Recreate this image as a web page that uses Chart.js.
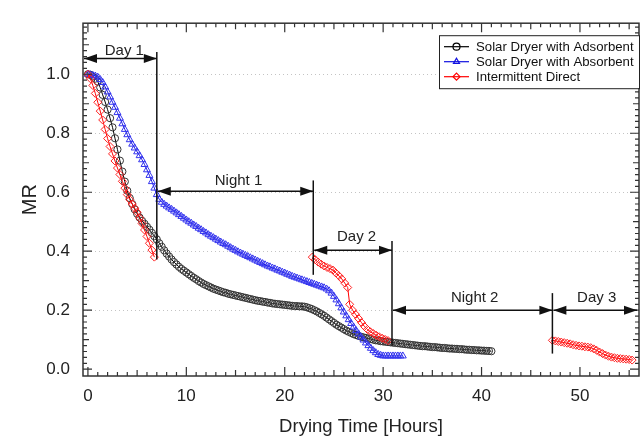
<!DOCTYPE html>
<html>
<head>
<meta charset="utf-8">
<script src="https://cdn.jsdelivr.net/npm/chart.js@4/dist/chart.umd.min.js"></script>
<style>
  html, body { margin: 0; padding: 0; background: #fff; }
  #wrap { width: 644px; height: 438px; }
</style>
</head>
<body>
<div id="wrap"><canvas id="mrChart" width="644" height="438"></canvas></div>
<script>
// sampling times [h], one reading every 15 min
const quarterHours = [
  0, 0.25, 0.5, 0.75, 1, 1.25, 1.5, 1.75,
  2, 2.25, 2.5, 2.75, 3, 3.25, 3.5, 3.75,
  4, 4.25, 4.5, 4.75, 5, 5.25, 5.5, 5.75,
  6, 6.25, 6.5, 6.75, 7, 7.25, 7.5, 7.75,
  8, 8.25, 8.5, 8.75, 9, 9.25, 9.5, 9.75,
  10, 10.25, 10.5, 10.75, 11, 11.25, 11.5, 11.75,
  12, 12.25, 12.5, 12.75, 13, 13.25, 13.5, 13.75,
  14, 14.25, 14.5, 14.75, 15, 15.25, 15.5, 15.75,
  16, 16.25, 16.5, 16.75, 17, 17.25, 17.5, 17.75,
  18, 18.25, 18.5, 18.75, 19, 19.25, 19.5, 19.75,
  20, 20.25, 20.5, 20.75, 21, 21.25, 21.5, 21.75,
  22, 22.25, 22.5, 22.75, 23, 23.25, 23.5, 23.75,
  24, 24.25, 24.5, 24.75, 25, 25.25, 25.5, 25.75,
  26, 26.25, 26.5, 26.75, 27, 27.25, 27.5, 27.75,
  28, 28.25, 28.5, 28.75, 29, 29.25, 29.5, 29.75,
  30, 30.25, 30.5, 30.75, 31, 31.25, 31.5, 31.75,
  32, 32.25, 32.5, 32.75, 33, 33.25, 33.5, 33.75,
  34, 34.25, 34.5, 34.75, 35, 35.25, 35.5, 35.75,
  36, 36.25, 36.5, 36.75, 37, 37.25, 37.5, 37.75,
  38, 38.25, 38.5, 38.75, 39, 39.25, 39.5, 39.75,
  40, 40.25, 40.5, 40.75, 41];

// moisture ratio
const adsorbentMR = [
  1.0, 0.998, 0.992, 0.985, 0.975, 0.955, 0.93, 0.906,
  0.88, 0.851, 0.82, 0.783, 0.745, 0.707, 0.67, 0.636,
  0.605, 0.58, 0.56, 0.542, 0.527, 0.514, 0.503, 0.493,
  0.483, 0.473, 0.462, 0.451, 0.44, 0.427, 0.415, 0.403,
  0.392, 0.382, 0.372, 0.363, 0.355, 0.347, 0.34, 0.334,
  0.328, 0.322, 0.316, 0.31, 0.305, 0.299, 0.294, 0.289,
  0.285, 0.281, 0.277, 0.273, 0.27, 0.267, 0.264, 0.261,
  0.259, 0.256, 0.254, 0.252, 0.25, 0.248, 0.246, 0.244,
  0.242, 0.24, 0.238, 0.236, 0.234, 0.232, 0.231, 0.229,
  0.228, 0.226, 0.225, 0.223, 0.222, 0.221, 0.22, 0.219,
  0.218, 0.217, 0.216, 0.215, 0.214, 0.214, 0.213, 0.213,
  0.212, 0.21, 0.207, 0.204, 0.2, 0.196, 0.191, 0.186,
  0.181, 0.175, 0.169, 0.163, 0.157, 0.151, 0.146, 0.141,
  0.136, 0.131, 0.127, 0.123, 0.119, 0.116, 0.113, 0.11,
  0.108, 0.106, 0.104, 0.102, 0.1, 0.098, 0.097, 0.095,
  0.094, 0.093, 0.092, 0.091, 0.09, 0.089, 0.088, 0.087,
  0.086, 0.085, 0.084, 0.083, 0.082, 0.081, 0.08, 0.079,
  0.078, 0.078, 0.077, 0.076, 0.075, 0.075, 0.074, 0.073,
  0.072, 0.072, 0.071, 0.07, 0.07, 0.069, 0.069, 0.068,
  0.068, 0.067, 0.066, 0.066, 0.065, 0.065, 0.064, 0.064,
  0.063, 0.063, 0.062, 0.062, 0.061];

const absorbentMR = [
  1.0, 0.998, 0.996, 0.994, 0.99, 0.982, 0.972, 0.957,
  0.94, 0.923, 0.905, 0.888, 0.87, 0.851, 0.832, 0.813,
  0.795, 0.778, 0.763, 0.75, 0.737, 0.724, 0.71, 0.694,
  0.676, 0.657, 0.636, 0.614, 0.592, 0.576, 0.566, 0.559,
  0.553, 0.547, 0.542, 0.536, 0.53, 0.524, 0.518, 0.512,
  0.506, 0.5, 0.495, 0.489, 0.484, 0.478, 0.473, 0.467,
  0.462, 0.456, 0.451, 0.446, 0.441, 0.436, 0.431, 0.426,
  0.422, 0.417, 0.412, 0.407, 0.403, 0.398, 0.394, 0.39,
  0.386, 0.382, 0.378, 0.374, 0.37, 0.366, 0.362, 0.358,
  0.354, 0.35, 0.347, 0.343, 0.34, 0.336, 0.333, 0.329,
  0.326, 0.322, 0.319, 0.315, 0.312, 0.309, 0.306, 0.303,
  0.3, 0.297, 0.294, 0.291, 0.288, 0.285, 0.282, 0.279,
  0.276, 0.272, 0.266, 0.258, 0.247, 0.235, 0.222, 0.208,
  0.194, 0.181, 0.168, 0.155, 0.143, 0.131, 0.12, 0.109,
  0.099, 0.089, 0.08, 0.071, 0.063, 0.056, 0.05, 0.047,
  0.045, 0.045, 0.045, 0.045, 0.045, 0.045, 0.045, 0.045,
  0.045];

// intermittent direct drying: only measured during day 1, day 2 and day 3
const directMR1 = [
  1.0, 0.985, 0.962, 0.935, 0.905, 0.875, 0.845, 0.813,
  0.782, 0.755, 0.73, 0.706, 0.682, 0.66, 0.637, 0.614,
  0.592, 0.575, 0.56, 0.546, 0.532, 0.513, 0.494, 0.472,
  0.45, 0.427, 0.404, 0.38];
const directTime2 = [22.8, 23.1, 23.4, 23.7, 24, 24.3, 24.6, 24.9, 25.2, 25.5, 25.8, 26.1, 26.4, 26.6,
  26.9, 27.2, 27.5, 27.8, 28.1, 28.4, 28.7, 29, 29.3, 29.6, 29.9, 30.2, 30.5];
const directMR2 = [0.38, 0.371, 0.363, 0.356, 0.35, 0.345, 0.341, 0.336, 0.326, 0.317, 0.306, 0.292, 0.277, 0.22,
  0.2, 0.186, 0.172, 0.158, 0.145, 0.135, 0.127, 0.121, 0.115, 0.11, 0.105, 0.101, 0.097];
const directTime3 = [47.2, 47.5, 47.8, 48.1, 48.4, 48.7, 49, 49.3, 49.6, 49.9, 50.2, 50.5, 50.8, 51.1,
  51.4, 51.7, 52, 52.3, 52.6, 52.9, 53.2, 53.5, 53.8, 54.1, 54.4, 54.7, 55, 55.3];
const directMR3 = [0.098, 0.096, 0.094, 0.092, 0.09, 0.088, 0.086, 0.083, 0.081, 0.079, 0.078, 0.076, 0.075, 0.073,
  0.069, 0.064, 0.058, 0.053, 0.048, 0.044, 0.041, 0.039, 0.037, 0.036, 0.035, 0.034, 0.033, 0.031];

const seriesNames = ["Solar Dryer with Adsorbent", "Solar Dryer with Absorbent", "Intermittent Direct"];
const xTicks = [0, 10, 20, 30, 40, 50];
const yTicks = [0, 0.2, 0.4, 0.6, 0.8, 1.0];

// day / night periods marked on the plot
const periods = [
  { label: "Day 1", from: -0.5, to: 7, arrowY: 1.053, textX: 3.7, textY: 1.08 },
  { label: "Night 1", from: 7, to: 22.9, arrowY: 0.603, textX: 15.3, textY: 0.64 },
  { label: "Day 2", from: 22.9, to: 30.9, arrowY: 0.403, textX: 27.3, textY: 0.45 },
  { label: "Night 2", from: 30.9, to: 47.2, arrowY: 0.2, textX: 39.3, textY: 0.241 },
  { label: "Day 3", from: 47.2, to: 56, arrowY: 0.2, textX: 51.7, textY: 0.241 },
];
const dividers = [
  { x: 7, top: 1.075, bottom: 0.372 },
  { x: 22.9, top: 0.64, bottom: 0.32 },
  { x: 30.9, top: 0.435, bottom: 0.08 },
  { x: 47.2, top: 0.258, bottom: 0.053 },
];

function toPoints(xs, ys) {
  return ys.map((y, i) => ({ x: xs[i], y: y }));
}

const directPoints = toPoints(quarterHours, directMR1)
  .concat([{ x: 15, y: null }])
  .concat(toPoints(directTime2, directMR2))
  .concat([{ x: 40, y: null }])
  .concat(toPoints(directTime3, directMR3));

Chart.defaults.font.family = "'Liberation Sans', Arial, sans-serif";
Chart.defaults.color = "#222";

function arrowHead(ctx, x, y, dir) {
  ctx.beginPath();
  ctx.moveTo(x, y);
  ctx.lineTo(x + dir * 13, y - 4.5);
  ctx.lineTo(x + dir * 13, y + 4.5);
  ctx.closePath();
  ctx.fill();
}

const decorPlugin = {
  id: "decor",
  beforeDatasetsDraw(chart) {
    const { ctx, chartArea: a, scales } = chart;
    ctx.save();
    ctx.strokeStyle = "#c4c4c4";
    ctx.lineWidth = 1;
    ctx.setLineDash([1, 3]);
    yTicks.forEach((v) => {
      if (v === 0) return;
      const py = Math.round(scales.y.getPixelForValue(v)) + 0.5;
      ctx.beginPath();
      ctx.moveTo(a.left, py);
      ctx.lineTo(a.right, py);
      ctx.stroke();
    });
    ctx.restore();
  },
  afterDatasetsDraw(chart) {
    const { ctx, chartArea: a, scales } = chart;
    const xs = scales.x, ys = scales.y;
    ctx.save();

    // frame and inward ticks on all four sides
    ctx.strokeStyle = "#333";
    ctx.lineWidth = 1.5;
    ctx.strokeRect(a.left, a.top, a.right - a.left, a.bottom - a.top);
    ctx.lineWidth = 1.2;
    for (let t = 0; t <= 55; t++) {
      const px = xs.getPixelForValue(t);
      const len = t % 10 === 0 ? 9 : (t % 5 === 0 ? 6 : 4);
      ctx.beginPath();
      ctx.moveTo(px, a.bottom); ctx.lineTo(px, a.bottom - len);
      ctx.moveTo(px, a.top); ctx.lineTo(px, a.top + len);
      ctx.stroke();
    }
    for (let k = 0; k <= 58; k++) {
      const py = ys.getPixelForValue(k * 0.02);
      const len = k % 10 === 0 ? 9 : (k % 5 === 0 ? 6 : 4);
      ctx.beginPath();
      ctx.moveTo(a.left, py); ctx.lineTo(a.left + len, py);
      ctx.moveTo(a.right, py); ctx.lineTo(a.right - len, py);
      ctx.stroke();
    }

    // day / night markers
    ctx.strokeStyle = "#111";
    ctx.fillStyle = "#111";
    ctx.lineWidth = 1.5;
    dividers.forEach((d) => {
      const px = xs.getPixelForValue(d.x);
      ctx.beginPath();
      ctx.moveTo(px, ys.getPixelForValue(d.top));
      ctx.lineTo(px, ys.getPixelForValue(d.bottom));
      ctx.stroke();
    });
    ctx.font = "15px 'Liberation Sans', Arial, sans-serif";
    ctx.textAlign = "center";
    ctx.textBaseline = "middle";
    periods.forEach((p) => {
      const x1 = xs.getPixelForValue(p.from) + 1;
      const x2 = Math.min(xs.getPixelForValue(p.to), a.right - 2);
      const py = ys.getPixelForValue(p.arrowY);
      ctx.beginPath();
      ctx.moveTo(x1, py); ctx.lineTo(x2, py);
      ctx.stroke();
      arrowHead(ctx, x1, py, 1);
      arrowHead(ctx, x2, py, -1);
      ctx.fillStyle = "#222";
      ctx.fillText(p.label, xs.getPixelForValue(p.textX), ys.getPixelForValue(p.textY));
      ctx.fillStyle = "#111";
    });

    // legend box in the upper right corner
    const bw = 200, bh = 53;
    const bx = a.right - bw, by = a.top + 12;
    ctx.setLineDash([]);
    ctx.fillStyle = "#fff";
    ctx.fillRect(bx, by, bw, bh);
    ctx.strokeStyle = "#222";
    ctx.lineWidth = 1;
    ctx.strokeRect(bx + 0.5, by + 0.5, bw, bh);
    ctx.font = "13.2px 'Liberation Sans', Arial, sans-serif";
    ctx.textAlign = "left";
    chart.data.datasets.forEach((ds, i) => {
      const ry = by + 11.5 + i * 15;
      ctx.strokeStyle = ds.borderColor;
      ctx.lineWidth = 1.2;
      ctx.beginPath();
      ctx.moveTo(bx + 5, ry); ctx.lineTo(bx + 30, ry);
      ctx.stroke();
      ctx.fillStyle = "rgba(0,0,0,0)";
      Chart.helpers.drawPoint(ctx, { pointStyle: ds.pointStyle, radius: 3.5, borderWidth: 1, rotation: 0 }, bx + 17.5, ry);
      ctx.fillStyle = "#111";
      ctx.fillText(seriesNames[i], bx + 37, ry + 1);
    });
    ctx.restore();
  },
};

new Chart(document.getElementById("mrChart"), {
  type: "line",
  data: {
    datasets: [
      {
        label: seriesNames[0],
        data: toPoints(quarterHours, adsorbentMR),
        borderColor: "#000",
        backgroundColor: "rgba(0,0,0,0)",
        borderWidth: 1,
        pointStyle: "circle",
        pointRadius: 3.6,
        pointBorderWidth: 1,
        pointBorderColor: "#333",
        order: 2,
      },
      {
        label: seriesNames[1],
        data: toPoints(quarterHours, absorbentMR),
        borderColor: "#1010e0",
        backgroundColor: "rgba(0,0,0,0)",
        borderWidth: 1,
        pointStyle: "triangle",
        pointRadius: 4,
        pointBorderWidth: 1,
        pointBorderColor: "#3333ee",
        order: 1,
      },
      {
        label: seriesNames[2],
        data: directPoints,
        borderColor: "#ff0000",
        backgroundColor: "rgba(0,0,0,0)",
        borderWidth: 1,
        pointStyle: "rectRot",
        pointRadius: 4,
        pointBorderWidth: 1,
        pointBorderColor: "#ff2020",
        spanGaps: false,
        order: 0,
      },
    ],
  },
  options: {
    responsive: false,
    animation: false,
    devicePixelRatio: 1,
    layout: { padding: { top: 17, right: 2, left: 0, bottom: 0 } },
    plugins: {
      legend: { display: false },
      tooltip: { enabled: false },
    },
    scales: {
      x: {
        type: "linear",
        min: -0.5,
        max: 56,
        afterFit: (scale) => { scale.height = 62; },
        afterBuildTicks: (scale) => { scale.ticks = xTicks.map((v) => ({ value: v })); },
        grid: { display: false, drawTicks: false },
        border: { display: false },
        ticks: { font: { size: 17 }, padding: 10, color: "#222", maxRotation: 0 },
        title: { display: true, text: "Drying Time [Hours]", font: { size: 18.5 }, color: "#222", padding: { top: 0, bottom: 0 } },
      },
      y: {
        type: "linear",
        min: -0.023,
        max: 1.173,
        afterFit: (scale) => { scale.width = 83; },
        afterBuildTicks: (scale) => { scale.ticks = yTicks.map((v) => ({ value: v })); },
        grid: { display: false, drawTicks: false },
        border: { display: false },
        ticks: { font: { size: 17 }, padding: 13, color: "#222", callback: (v) => Number(v).toFixed(1) },
        title: { display: true, text: "MR", font: { size: 20 }, color: "#222", padding: { top: 18, bottom: 0 } },
      },
    },
  },
  plugins: [decorPlugin],
});
</script>
</body>
</html>
